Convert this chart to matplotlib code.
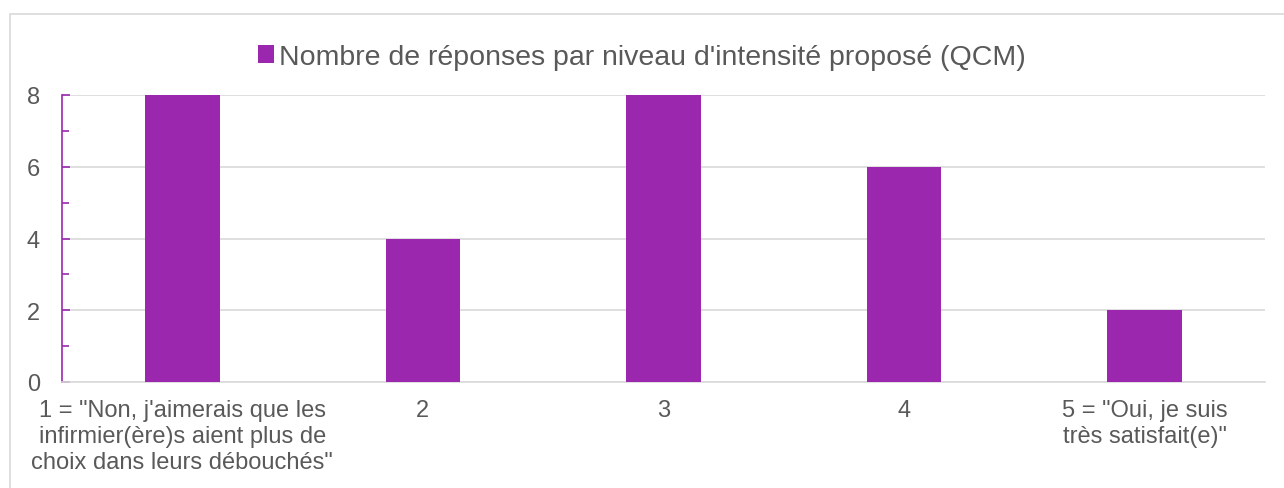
import matplotlib
matplotlib.use("Agg")
import matplotlib.pyplot as plt
from matplotlib.patches import Rectangle
from matplotlib.ticker import MultipleLocator

categories = ['1 = "Non, j\'aimerais que les\ninfirmier(ère)s aient plus de\nchoix dans leurs débouchés"',
              '2', '3', '4',
              '5 = "Oui, je suis\ntrès satisfait(e)"']
values = [8, 4, 8, 6, 2]
series_name = "Nombre de réponses par niveau d'intensité proposé (QCM)"

bar_color = '#9B27AF'
text_color = '#595959'
grid_color = '#D9D9D9'

plt.rcParams['font.family'] = ['Liberation Sans', 'DejaVu Sans']

fig = plt.figure(figsize=(12.84, 4.89), dpi=100)
fig.patches.append(Rectangle((10/1284, -0.1), 1.2, 1.1 - 15/489,
                             transform=fig.transFigure, fill=False,
                             edgecolor='#D9D9D9', linewidth=1.2))

ax = fig.add_axes([62/1284, 1-383/489, (1265-62)/1284, (383-96)/489])
x = list(range(len(categories)))
ax.bar(x, values, width=0.31, color=bar_color, label=series_name, zorder=3)
ax.set_xlim(-0.5, len(categories) - 0.5)
ax.set_ylim(0, 8)
ax.yaxis.set_major_locator(MultipleLocator(2))
ax.yaxis.set_minor_locator(MultipleLocator(1))
ax.grid(axis='y', color=grid_color, linewidth=1.2, zorder=0)
for s in ['top', 'right']:
    ax.spines[s].set_visible(False)
ax.spines['bottom'].set_color(grid_color)
ax.spines['bottom'].set_linewidth(1.2)
ax.spines['left'].set_color(bar_color)
ax.spines['left'].set_linewidth(1.2)
ax.tick_params(axis='y', which='major', direction='in', length=6, color=bar_color,
               labelsize=17, labelcolor=text_color, pad=16, width=1.2)
ax.tick_params(axis='y', which='minor', direction='in', length=5, color=bar_color, width=1.2)
ax.tick_params(axis='x', length=0, labelsize=17, labelcolor=text_color, pad=12)
ax.set_xticks(x)
ax.set_xticklabels(categories, linespacing=1.25)

leg = fig.legend(loc='center', bbox_to_anchor=(0.5, 1-58/489), frameon=False,
                 fontsize=20.5, labelcolor=text_color, handlelength=0.55, handleheight=0.55,
                 handletextpad=0.2)

fig.savefig('out.png', dpi=100)
